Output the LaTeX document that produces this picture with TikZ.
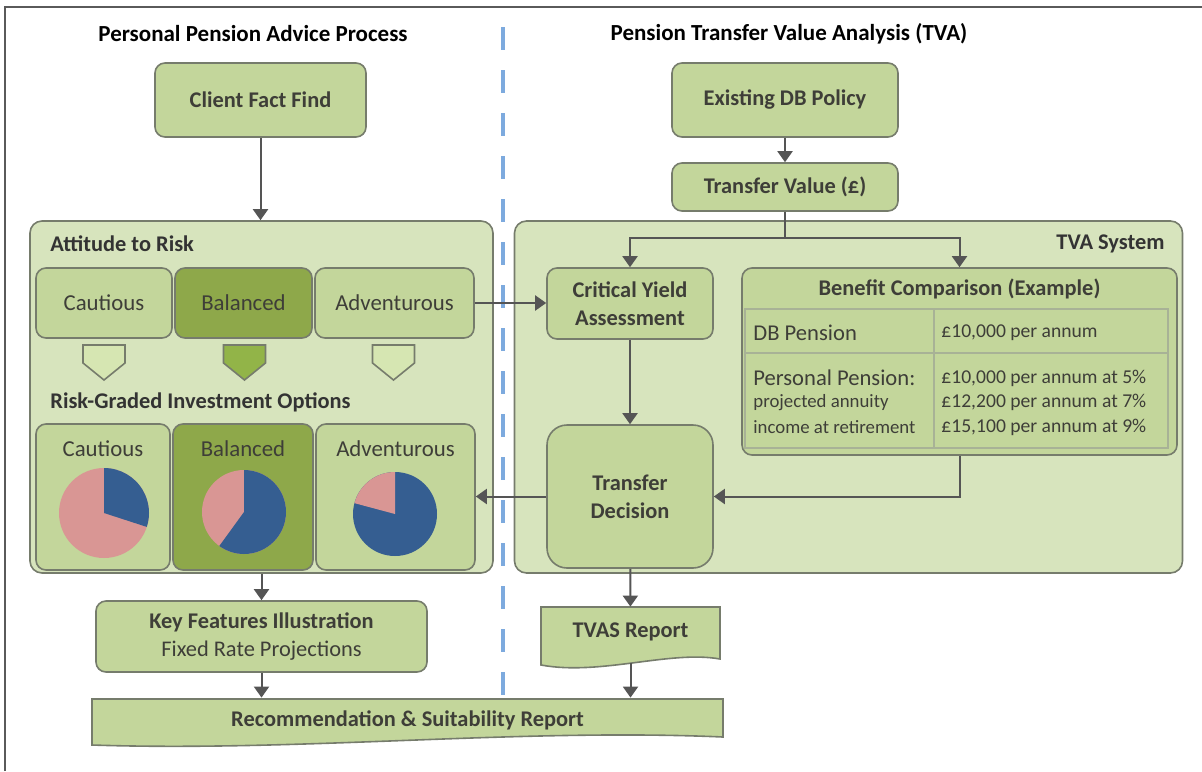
\documentclass[tikz,border=0pt]{standalone}
\usepackage{fontspec}
\setmainfont{Carlito}
\usetikzlibrary{arrows.meta}

\definecolor{boxgreen}{RGB}{195,214,155}
\definecolor{panelgreen}{RGB}{215,228,189}
\definecolor{darkgreen}{RGB}{142,168,74}
\definecolor{pentdark}{RGB}{146,180,72}
\definecolor{pentlight}{RGB}{214,230,178}
\definecolor{edgegray}{RGB}{118,124,108}
\definecolor{arrowgray}{RGB}{85,85,85}
\definecolor{txtgray}{RGB}{62,62,56}
\definecolor{tablegray}{RGB}{168,178,150}
\definecolor{pieblue}{RGB}{53,94,145}
\definecolor{piepink}{RGB}{217,150,148}
\definecolor{dashblue}{RGB}{125,170,222}
\definecolor{framegray}{RGB}{90,90,90}

\tikzset{
    wh/.style 2 args={minimum width=#1*0.5pt, minimum height=#2*0.5pt},
    procbox/.style={draw=edgegray, line width=0.8pt, fill=boxgreen, rounded corners=5pt,
        inner sep=0pt, align=center, text=txtgray, font=\fontsize{11.2}{14}\selectfont\bfseries},
    riskbox/.style={draw=edgegray, line width=0.8pt, fill=boxgreen, rounded corners=5pt,
        inner sep=0pt, text=txtgray, font=\fontsize{11.4}{14}\selectfont},
    panel/.style={draw=edgegray, line width=0.8pt, fill=panelgreen, rounded corners=6pt, inner sep=0pt},
    docshape/.style={draw=edgegray, line width=0.8pt, fill=boxgreen},
    doctxt/.style={inner sep=0pt, text=txtgray, font=\fontsize{11.2}{14}\selectfont\bfseries},
    heading/.style={font=\fontsize{11.5}{14}\selectfont\bfseries, text=black},
    paneltitle/.style={font=\fontsize{11.2}{14}\selectfont\bfseries, text=black!80, inner sep=0pt},
    opttxt/.style={font=\fontsize{11.4}{14}\selectfont, text=txtgray, inner sep=0pt},
    celltxt/.style={font=\fontsize{11.3}{14}\selectfont, text=txtgray, anchor=west, inner sep=0pt},
    smalltxt/.style={font=\fontsize{9.4}{12}\selectfont, text=txtgray, anchor=west, inner sep=0pt},
    valtxt/.style={font=\fontsize{9.8}{12.25}\selectfont, text=txtgray, anchor=west, align=left, inner sep=0pt},
    tableline/.style={draw=tablegray, line width=0.6pt},
    pent/.style={draw=edgegray, line width=0.8pt},
    flow/.style={draw=arrowgray, line width=1pt, -{Triangle[width=7.5pt,length=5.5pt]}},
}

\begin{document}
\begin{tikzpicture}[x=0.5pt,y=-0.5pt]
    \useasboundingbox (0,0) rectangle (1202,771);

    % frame
    \draw[framegray, line width=0.8pt] (5,771) -- (5,7) -- (1202,7);

    % headings
    \node[heading] (lefthead) at (253,34) {Personal Pension Advice Process};
    \node[heading] (righthead) at (789,34) {Pension Transfer Value Analysis (TVA)};

    % divider
    \draw[dashblue, line width=2pt, dash pattern=on 11.5pt off 10pt] (503,27) -- (503,750);

    % panels
    \node[panel, wh={463}{352}] (riskpanel) at (261.5,397) {};
    \node[panel, wh={668}{352}] (tvapanel) at (848.5,397) {};
    \node[paneltitle, anchor=west] (risktitle) at (50,244) {Attitude to Risk};
    \node[paneltitle, anchor=east] (tvatitle) at (1165,244) {TVA System};
    \node[paneltitle, anchor=west] (opttitle) at (50,402) {Risk-Graded Investment Options};

    % top boxes
    \node[procbox, wh={211}{74}] (cff) at (260.5,100) {Client Fact Find};
    \node[procbox, wh={226}{74}] (edb) at (785,100) {Existing DB Policy};
    \node[procbox, wh={226}{48}] (tv) at (785,187) {Transfer Value (£)};

    % attitude to risk
    \node[riskbox, wh={136}{70}] (cau1) at (104,303) {Cautious};
    \node[riskbox, wh={137}{70}, fill=darkgreen] (bal1) at (243.5,303) {Balanced};
    \node[riskbox, wh={159}{70}] (adv1) at (394.5,303) {Adventurous};

    \foreach \cx/\fc in {104/pentlight, 244.5/pentdark, 393.5/pentlight}
    \draw[pent, fill=\fc] (\cx-21,345) -- (\cx+21,345) -- (\cx+21,363) -- (\cx,380) -- (\cx-21,363) -- cycle;

    % investment options
    \node[riskbox, wh={134}{146}] (cau2) at (103,497) {};
    \node[riskbox, wh={140}{146}, fill=darkgreen] (bal2) at (243,497) {};
    \node[riskbox, wh={159}{146}] (adv2) at (395.5,497) {};
    \node[opttxt] (cau2lbl) at (103,449) {Cautious};
    \node[opttxt] (bal2lbl) at (243,449) {Balanced};
    \node[opttxt] (adv2lbl) at (395.5,449) {Adventurous};

    % pies
    \coordinate (cau2pie) at (104,513);
    \coordinate (bal2pie) at (244,512);
    \coordinate (adv2pie) at (395,514);
    \fill[piepink] (cau2pie) circle[radius=45];
    \fill[pieblue] (cau2pie) -- ++(-90:45) arc[start angle=-90, end angle=18, radius=45] -- cycle;
    \fill[piepink] (bal2pie) circle[radius=42];
    \fill[pieblue] (bal2pie) -- ++(-90:42) arc[start angle=-90, end angle=126, radius=42] -- cycle;
    \fill[pieblue] (adv2pie) circle[radius=42];
    \fill[piepink] (adv2pie) -- ++(-90:42) arc[start angle=-90, end angle=-165, radius=42] -- cycle;

    % tva system
    \node[procbox, wh={166}{71}] (cya) at (630,303.5) {Critical Yield\\Assessment};
    \node[procbox, wh={166}{143}, rounded corners=10pt] (td) at (630,496.5) {Transfer\\Decision};
    \node[procbox, wh={435}{187}] (bc) at (959.5,361.5) {};
    \node[doctxt] (bctitle) at (959.5,289) {Benefit Comparison (Example)};

    % comparison table
    \draw[tableline] (745,309) rectangle (1168,448);
    \draw[tableline] (745,353) -- (1168,353);
    \draw[tableline] (934,309) -- (934,448);
    \node[celltxt] (dbname) at (753,333) {DB Pension};
    \node[valtxt] (dbval) at (941,333) {£10,000 per annum};
    \node[celltxt] (ppname) at (753,378) {Personal Pension:};
    \node[smalltxt] (ppnote1) at (753,403) {projected annuity};
    \node[smalltxt] (ppnote2) at (753,427) {income at retirement};
    \node[valtxt] (ppval) at (941,402.5) {£10,000 per annum at 5\%\\£12,200 per annum at 7\%\\£15,100 per annum at 9\%};

    % outputs
    \node[procbox, wh={331}{71}] (kfi) at (261.5,636.5) {Key Features Illustration\\\mdseries Fixed Rate Projections};
    \draw[docshape] (541,607) -- (720,607) -- (720,659) .. controls (670,650) and (600,676) .. (541,665) -- cycle;
    \node[doctxt, wh={179}{56}, text depth=5.2pt] (tvas) at (630.5,635) {TVAS Report};
    \draw[docshape] (92,699) -- (723,699) -- (723,737) .. controls (520,728) and (300,752) .. (92,745) -- cycle;
    \node[doctxt, wh={631}{44}] (rec) at (407.5,720) {Recommendation \& Suitability Report};

    % arrows
    \draw[flow] (cff.south) -- (cff.south |- riskpanel.north);
    \draw[flow] (edb) -- (tv);
    \draw[flow] (tv.south) -- ++(0,26) -| (cya.north);
    \draw[flow] (tv.south) -- ++(0,26) -| (bc.north);
    \draw[flow] (adv1.east) -- (adv1.east -| cya.west);
    \draw[flow] (cya) -- (td);
    \draw[flow] (bc.south) |- (td.east);
    \draw[flow] (td.west) -- (td.west -| adv2.east);
    \draw[flow] (riskpanel) -- (kfi);
    \draw[flow] (td) -- (tvas);
    \draw[flow] (kfi.south) -- (kfi.south |- rec.north);
    \draw[flow] (tvas.south) -- (tvas.south |- rec.north);
\end{tikzpicture}
\end{document}
